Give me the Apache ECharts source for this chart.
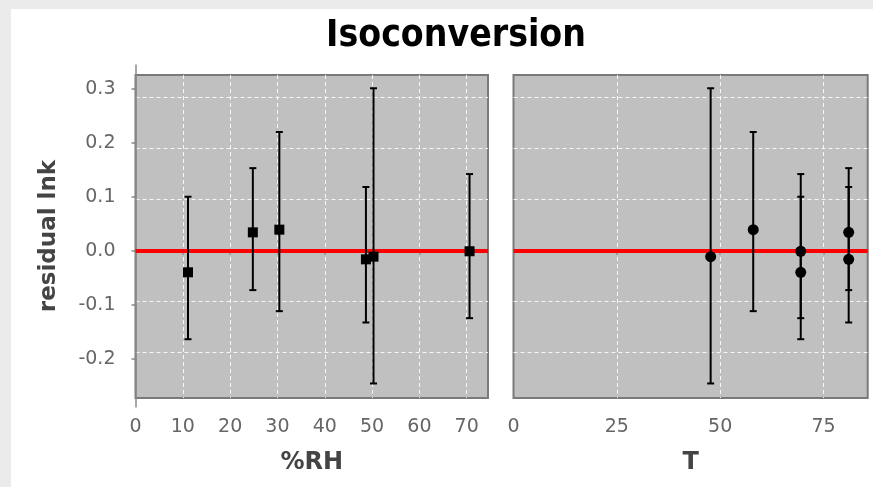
<!DOCTYPE html>
<html>
<head>
<meta charset="utf-8">
<script src="https://cdn.jsdelivr.net/npm/echarts@6/dist/echarts.min.js"></script>
<style>
  html, body { margin: 0; padding: 0; background: #ebebeb; }
  #panel { position: absolute; left: 11px; top: 9px; width: 862px; height: 478px; background: #ffffff; }
  #chart { position: absolute; left: 0; top: 0; width: 873px; height: 487px; }
</style>
</head>
<body>
<div id="panel"></div>
<div id="chart"></div>
<script>
// ---- data ----
const relHumidity = [11.1, 24.8, 30.4, 48.7, 50.3, 70.6];
const temperature = [69.5, 81.1, 58.0, 81.1, 47.7, 69.5];
const residual    = [-0.040, 0.034, 0.039, -0.016, -0.011, -0.001];
const lowerBound  = [-0.164, -0.073, -0.112, -0.133, -0.246, -0.125];
const upperBound  = [0.100, 0.153, 0.220, 0.118, 0.301, 0.142];
const yTicks   = [-0.2, -0.1, 0.0, 0.1, 0.2, 0.3];
const rhTicks  = [0, 10, 20, 30, 40, 50, 60, 70];
const tTicks   = [0, 25, 50, 75];

const Y_MIN = -0.2896, Y_MAX = 0.3441;
const RH_MAX = 74.5, T_MAX = 85.7;

const chart = echarts.init(document.getElementById('chart'), null, { renderer: 'canvas' });

const labelFont = 'DejaVu Sans';
const gridLine = { show: true, lineStyle: { color: 'rgba(255,255,255,0.85)', width: 1, type: [4, 3] } };
const rhGrid = rhTicks.filter(v => v > 0);
const tGrid = tTicks.filter(v => v > 0);

function errData(xs) {
  return xs.map((x, i) => [x, lowerBound[i], upperBound[i]]);
}
function ptData(xs) {
  return xs.map((x, i) => [x, residual[i]]);
}
function renderErr(params, api) {
  const x = api.value(0);
  const lo = api.coord([x, api.value(1)]);
  const hi = api.coord([x, api.value(2)]);
  const w = 3.5;
  const st = { stroke: '#000', lineWidth: 2 };
  return {
    type: 'group',
    children: [
      { type: 'line', shape: { x1: lo[0], y1: lo[1], x2: hi[0], y2: hi[1] }, style: st },
      { type: 'line', shape: { x1: lo[0] - w, y1: lo[1], x2: lo[0] + w, y2: lo[1] }, style: st },
      { type: 'line', shape: { x1: hi[0] - w, y1: hi[1], x2: hi[0] + w, y2: hi[1] }, style: st }
    ]
  };
}

const hiddenAxis = {
  axisLine: { show: false }, axisLabel: { show: false }, axisTick: { show: false }
};

const zeroLine = {
  silent: true, symbol: 'none', label: { show: false }, z: 2,
  lineStyle: { color: '#ff0000', width: 4, type: 'solid', opacity: 1 },
  emphasis: { disabled: true }, data: [{ yAxis: 0 }]
};

const option = {
  animation: false,
  backgroundColor: 'transparent',
  title: {
    text: 'Isoconversion',
    left: 451, top: 13, textAlign: 'center',
    textStyle: { fontFamily: 'DejaVu Sans Condensed', fontWeight: 'bold', fontSize: 37, color: '#000' }
  },
  grid: [
    { left: 135.5, top: 75, width: 352.5, height: 323, show: true, backgroundColor: '#c0c0c0', borderColor: '#7a7a7a', borderWidth: 2 },
    { left: 513.5, top: 75, width: 354.2, height: 323, show: true, backgroundColor: '#c0c0c0', borderColor: '#7a7a7a', borderWidth: 2 },
    { left: 135.5, top: 65, width: 352.5, height: 342 },
    { left: 513.5, top: 65, width: 354.2, height: 342 }
  ],
  xAxis: [
    Object.assign({ gridIndex: 0, type: 'value', min: 0, max: RH_MAX, splitLine: gridLine }, hiddenAxis,
      { axisTick: { show: false, customValues: rhGrid }, axisLabel: { show: false, customValues: rhGrid } }),
    Object.assign({ gridIndex: 1, type: 'value', min: 0, max: T_MAX, splitLine: gridLine }, hiddenAxis,
      { axisTick: { show: false, customValues: tGrid }, axisLabel: { show: false, customValues: tGrid } }),
    {
      gridIndex: 2, type: 'value', min: 0, max: RH_MAX, position: 'bottom',
      splitLine: { show: false },
      axisLine: { show: true, lineStyle: { color: '#888', width: 1.5 } },
      axisTick: { show: true, length: 4, customValues: rhTicks, lineStyle: { color: '#888', width: 1.5 } },
      axisLabel: { show: true, customValues: rhTicks, margin: 11, color: '#666', fontSize: 19, fontFamily: labelFont },
      name: '%RH', nameLocation: 'middle', nameGap: 44,
      nameTextStyle: { color: '#444', fontSize: 24, fontWeight: 'bold', fontFamily: labelFont }
    },
    {
      gridIndex: 3, type: 'value', min: 0, max: T_MAX, position: 'bottom',
      splitLine: { show: false },
      axisLine: { show: true, lineStyle: { color: '#888', width: 1.5 } },
      axisTick: { show: true, length: 4, customValues: tTicks, lineStyle: { color: '#888', width: 1.5 } },
      axisLabel: { show: true, customValues: tTicks, margin: 11, color: '#666', fontSize: 19, fontFamily: labelFont },
      name: 'T', nameLocation: 'middle', nameGap: 44,
      nameTextStyle: { color: '#444', fontSize: 24, fontWeight: 'bold', fontFamily: labelFont }
    }
  ],
  yAxis: [
    Object.assign({ gridIndex: 0, type: 'value', min: Y_MIN, max: Y_MAX, splitLine: gridLine }, hiddenAxis,
      { axisTick: { show: false, customValues: yTicks }, axisLabel: { show: false, customValues: yTicks } }),
    Object.assign({ gridIndex: 1, type: 'value', min: Y_MIN, max: Y_MAX, splitLine: gridLine }, hiddenAxis,
      { axisTick: { show: false, customValues: yTicks }, axisLabel: { show: false, customValues: yTicks } }),
    {
      gridIndex: 2, type: 'value', min: Y_MIN, max: Y_MAX, position: 'left', offset: 9,
      splitLine: { show: false },
      axisLine: { show: true, lineStyle: { color: '#888', width: 1.5 } },
      axisTick: { show: true, length: 4, customValues: yTicks, lineStyle: { color: '#888', width: 1.5 } },
      axisLabel: { show: true, customValues: yTicks, margin: 11, color: '#666', fontSize: 19, fontFamily: labelFont,
        formatter: v => Number(v).toFixed(1) },
      name: 'residual lnk', nameLocation: 'middle', nameGap: 66, nameRotate: 90,
      nameTextStyle: { color: '#444', fontSize: 23, fontWeight: 'bold', fontFamily: labelFont }
    },
    Object.assign({ gridIndex: 3, type: 'value', min: Y_MIN, max: Y_MAX, splitLine: { show: false } }, hiddenAxis)
  ],
  series: [
    {
      type: 'custom', xAxisIndex: 2, yAxisIndex: 2, renderItem: renderErr,
      data: errData(relHumidity), z: 3, silent: true, clip: false,
      markLine: zeroLine
    },
    {
      type: 'scatter', xAxisIndex: 2, yAxisIndex: 2, symbol: 'rect', symbolSize: 10,
      itemStyle: { color: '#000', opacity: 1 }, data: ptData(relHumidity), z: 4, silent: true
    },
    {
      type: 'custom', xAxisIndex: 3, yAxisIndex: 3, renderItem: renderErr,
      data: errData(temperature), z: 3, silent: true, clip: false,
      markLine: zeroLine
    },
    {
      type: 'scatter', xAxisIndex: 3, yAxisIndex: 3, symbol: 'circle', symbolSize: 11,
      itemStyle: { color: '#000', opacity: 1 }, data: ptData(temperature), z: 4, silent: true
    }
  ]
};
chart.setOption(option);
</script>
</body>
</html>
